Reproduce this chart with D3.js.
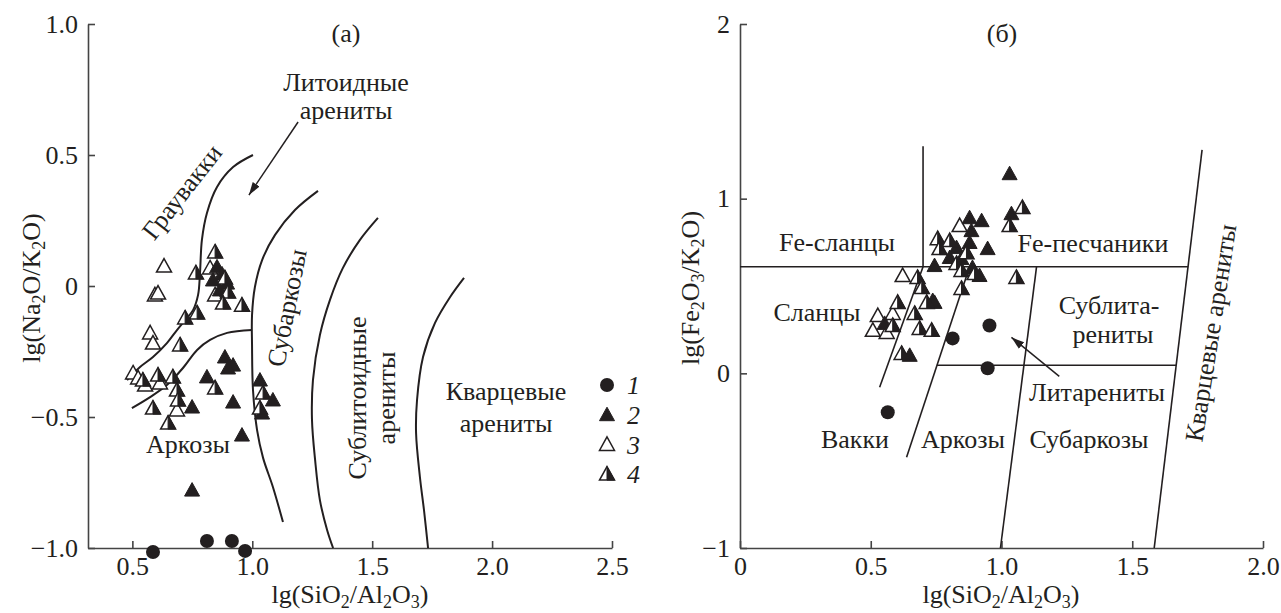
<!DOCTYPE html>
<html><head><meta charset="utf-8">
<script src="https://cdn.jsdelivr.net/npm/d3@7"></script>
<style>
html,body{margin:0;padding:0;background:#fff;}
svg{display:block;}
svg text{font-family:"Liberation Serif","DejaVu Serif","Times New Roman",serif;fill:#231f20;}
</style></head><body>
<svg id="c" width="1281" height="613"></svg>
<script>
// ---------- tick values / labels ----------
const xTicksA = [0.5, 1.0, 1.5, 2.0, 2.5];
const xTickLabelsA = ["0.5", "1.0", "1.5", "2.0", "2.5"];
const yTicksA = [-1, -0.5, 0, 0.5, 1];
const yTickLabelsA = ["\u22121.0", "\u22120.5", "0", "0.5", "1.0"];
const xTicksB = [0, 0.5, 1, 1.5, 2];
const xTickLabelsB = ["0", "0.5", "1.0", "1.5", "2.0"];
const yTicksB = [-1, 0, 1, 2];
const yTickLabelsB = ["\u22121", "0", "1", "2"];
const seriesNames = ["1", "2", "3", "4"];

// ---------- panel (а): lg(SiO2/Al2O3) vs lg(Na2O/K2O) ----------
const a_series1 = [[0.586,-1.015],[0.811,-0.973],[0.915,-0.973],[0.970,-1.011]];
const a_series2 = [[0.853,0.073],[0.874,0.046],[0.836,0.023],[0.895,0.011],[0.865,-0.015],
  [0.886,-0.271],[0.920,-0.302],[0.899,-0.313],[0.811,-0.347],[0.920,-0.443],[0.749,-0.462],
  [0.957,-0.569],[1.032,-0.359],[1.086,-0.435],[1.041,-0.485],[0.749,-0.779]];
const a_series3 = [[0.632,0.076],[0.594,-0.034],[0.607,-0.027],[0.824,0.069],[0.845,-0.034],
  [0.574,-0.179],[0.586,-0.218],[0.503,-0.332],[0.524,-0.351],[0.553,-0.378],[0.615,-0.370],[0.686,-0.473]];
const a_series4 = [[0.845,0.130],[0.765,0.050],[0.886,0.031],[0.899,-0.023],[0.878,-0.065],
  [0.957,-0.073],[0.770,-0.103],[0.720,-0.122],[0.699,-0.225],[0.544,-0.359],[0.607,-0.340],
  [0.669,-0.347],[0.686,-0.397],[0.586,-0.466],[0.649,-0.523],[0.845,-0.389],[1.045,-0.408],
  [1.032,-0.466],[0.690,-0.435]];

const a_curve1 = [[1.003,0.500],[0.920,0.454],[0.853,0.378],[0.811,0.279],[0.790,0.176],[0.782,0.050],
  [0.774,-0.034],[0.753,-0.092],[0.720,-0.130],[0.686,-0.168],[0.644,-0.218],[0.586,-0.271],[0.532,-0.309],[0.478,-0.359]];
const a_curve2 = [[0.498,-0.466],[0.574,-0.424],[0.644,-0.378],[0.711,-0.313],[0.770,-0.244],[0.824,-0.206],[0.895,-0.179],[0.999,-0.168]];
const a_curve3 = [[1.274,0.363],[1.178,0.290],[1.095,0.195],[1.041,0.099],[1.011,-0.004],[0.999,-0.111],[0.999,-0.225],
  [1.003,-0.397],[1.020,-0.550],[1.045,-0.656],[1.086,-0.767],[1.128,-0.901]];
const a_curve4 = [[1.524,0.260],[1.449,0.176],[1.378,0.069],[1.324,-0.053],[1.282,-0.187],[1.253,-0.359],[1.249,-0.511],
  [1.262,-0.664],[1.282,-0.817],[1.312,-0.931],[1.337,-1.000]];
const a_curve5 = [[1.883,0.031],[1.825,-0.042],[1.762,-0.141],[1.712,-0.271],[1.687,-0.435],[1.683,-0.561],[1.699,-0.729],[1.716,-0.855],[1.733,-1.000]];
const a_arrow = [[1.191,0.626],[0.986,0.347]];

// ---------- panel (б): lg(SiO2/Al2O3) vs lg(Fe2O3/K2O) ----------
const b_series1 = [[0.565,-0.223],[0.813,0.200],[0.954,0.274],[0.947,0.029]];
const b_series2 = [[1.031,1.143],[1.038,0.914],[0.878,0.891],[0.924,0.874],[0.885,0.817],[0.947,0.714],
  [0.828,0.720],[0.878,0.749],[0.802,0.663],[0.847,0.657],[0.744,0.617],[0.889,0.606],[0.916,0.560],
  [0.737,0.417],[0.744,0.406],[0.553,0.286],[0.649,0.103]];
const b_series3 = [[0.840,0.846],[0.622,0.560],[0.527,0.331],[0.508,0.246],[0.561,0.234],[0.584,0.343]];
const b_series4 = [[1.080,0.949],[1.031,0.846],[0.756,0.771],[0.802,0.760],[0.763,0.714],[0.866,0.691],
  [0.828,0.629],[0.847,0.589],[0.679,0.549],[1.057,0.549],[0.695,0.491],[0.847,0.486],[0.897,0.571],
  [0.603,0.406],[0.714,0.406],[0.668,0.343],[0.584,0.274],[0.687,0.257],[0.733,0.246],[0.618,0.114]];
const b_lines = [
  [[0.70,1.30],[0.70,0.61]],
  [[0,0.61],[1.714,0.61]],
  [[0.534,-0.08],[0.70,0.61]],
  [[0.637,-0.48],[0.878,0.61]],
  [[0.753,0.046],[1.668,0.046]],
  [[0.996,-1],[1.134,0.61]],
  [[1.584,-1],[1.767,1.279]]
];
const b_arrow = [[1.221,-0.017],[1.038,0.206]];

// ---------- drawing ----------
const svg = d3.select("#c");
const FONT = 26;
const INK = "#231f20";
const FAM = '"Liberation Serif", "DejaVu Serif", serif';

const xA = d3.scaleLinear().domain([0.315, 2.5]).range([88, 612]);
const yA = d3.scaleLinear().domain([-1, 1]).range([548, 24]);
const xB = d3.scaleLinear().domain([0, 2]).range([740, 1263]);
const yB = d3.scaleLinear().domain([-1, 2]).range([548, 24]);

const defs = svg.append("defs");
defs.append("marker").attr("id","arr").attr("viewBox","0 0 10 10")
  .attr("refX",10).attr("refY",5).attr("markerWidth",13).attr("markerHeight",13)
  .attr("markerUnits","userSpaceOnUse").attr("orient","auto")
  .append("path").attr("d","M0,1.8L10,5L0,8.2Z").attr("fill",INK);

function drawAxes(x, y, xt, xl, yt, yl) {
  const gx = svg.append("g").attr("transform", `translate(0,${y.range()[0]})`)
    .call(d3.axisBottom(x).tickValues(xt).tickFormat((d,i)=>xl[i]).tickSize(-7).tickSizeOuter(0).tickPadding(9));
  const gy = svg.append("g").attr("transform", `translate(${x.range()[0]},0)`)
    .call(d3.axisLeft(y).tickValues(yt).tickFormat((d,i)=>yl[i]).tickSize(-7).tickSizeOuter(0).tickPadding(10));
  [gx, gy].forEach(g => {
    g.attr("font-size", FONT).attr("font-family", FAM);
    g.selectAll("path,line").attr("stroke", "#444").attr("stroke-width", 1.6);
    g.selectAll("text").attr("fill", INK);
  });
}
drawAxes(xA, yA, xTicksA, xTickLabelsA, yTicksA, yTickLabelsA);
drawAxes(xB, yB, xTicksB, xTickLabelsB, yTicksB, yTickLabelsB);

function subLabel(parts, tx, ty, rot) {
  const t = svg.append("text").attr("font-size", FONT).attr("text-anchor","middle")
    .attr("font-family", FAM)
    .attr("transform", `translate(${tx},${ty}) rotate(${rot})`);
  let shifted = false;
  parts.forEach(p => {
    const isSub = /^[0-9]$/.test(p);
    const ts = t.append("tspan").text(p);
    if (isSub) { ts.attr("font-size", 18).attr("dy", shifted ? 0 : 5); shifted = true; }
    else { if (shifted) ts.attr("dy", -5); shifted = false; }
  });
}
subLabel(["lg(SiO","2","/Al","2","O","3",")"], 350, 603, 0);
subLabel(["lg(SiO","2","/Al","2","O","3",")"], 1001, 603, 0);
subLabel(["lg(Na","2","O/K","2","O)"], 40, 288, -90);
subLabel(["lg(Fe","2","O","3","/K","2","O)"], 699, 288, -90);

function label(txt, x, y, opts = {}) {
  const t = svg.append("text").text(txt).attr("font-size", FONT)
    .attr("font-family", FAM)
    .attr("text-anchor", opts.anchor || "middle");
  if (opts.rot) t.attr("transform", `translate(${x},${y}) rotate(${opts.rot})`);
  else t.attr("x", x).attr("y", y);
  if (opts.central) t.attr("dominant-baseline", "central");
  if (opts.italic) t.attr("font-style", "italic");
  return t;
}

// panel a labels
label("(а)", 346, 42);
label("Литоидные", 346, 91);
label("арениты", 346, 119);
label("Граувакки", 182, 192, {rot:-52, central:true});
label("Субаркозы", 287, 308, {rot:-79, central:true});
label("Сублитоидные", 366, 398, {rot:-90});
label("арениты", 395, 398, {rot:-90});
label("Кварцевые", 506, 400);
label("арениты", 506, 432);
label("Аркозы", 188, 453);

// panel b labels
label("(б)", 1002, 42);
label("Fe-сланцы", 837, 251);
label("Fe-песчаники", 1093, 252);
label("Сланцы", 817, 321);
label("Сублита-", 1109, 314);
label("рениты", 1113, 343);
label("Литарениты", 1097, 401);
label("Вакки", 855, 448);
label("Аркозы", 963, 448);
label("Субаркозы", 1089, 448);
label("Кварцевые арениты", 1211, 333, {rot:-81, central:true});

// boundaries
const lineA = d3.line().x(d=>xA(d[0])).y(d=>yA(d[1])).curve(d3.curveCatmullRom.alpha(0.5));
[a_curve1, a_curve2, a_curve3, a_curve4, a_curve5].forEach(c => {
  svg.append("path").attr("d", lineA(c)).attr("fill","none").attr("stroke",INK).attr("stroke-width",2);
});
const lineB = d3.line().x(d=>xB(d[0])).y(d=>yB(d[1]));
b_lines.forEach(c => {
  svg.append("path").attr("d", lineB(c)).attr("fill","none").attr("stroke",INK).attr("stroke-width",1.6);
});
svg.append("path").attr("d", d3.line().x(d=>xA(d[0])).y(d=>yA(d[1]))(a_arrow))
  .attr("stroke",INK).attr("stroke-width",1.5).attr("fill","none").attr("marker-end","url(#arr)");
svg.append("path").attr("d", lineB(b_arrow))
  .attr("stroke",INK).attr("stroke-width",1.5).attr("fill","none").attr("marker-end","url(#arr)");

// markers
const TRI = "M0,-7.5L7.5,6L-7.5,6Z";
const HALF = "M0,-7.5L7.5,6L0,6Z";
function drawMarker(g, type, px, py) {
  const m = g.append("g").attr("transform", `translate(${px},${py})`);
  if (type === 1) {
    m.append("circle").attr("r", 7).attr("fill", INK);
  } else if (type === 2) {
    m.append("path").attr("d", TRI).attr("fill", INK).attr("stroke", INK).attr("stroke-width", 1);
  } else if (type === 3) {
    m.append("path").attr("d", TRI).attr("fill", "#fff").attr("stroke", INK).attr("stroke-width", 1.5);
  } else {
    m.append("path").attr("d", TRI).attr("fill", "#fff").attr("stroke", INK).attr("stroke-width", 1.5);
    m.append("path").attr("d", HALF).attr("fill", INK).attr("stroke", INK).attr("stroke-width", 1);
  }
}
function drawSeries(x, y, list) {
  const g = svg.append("g");
  list.forEach(([type, pts]) => pts.forEach(p => drawMarker(g, type, x(p[0]), y(p[1]))));
}
drawSeries(xA, yA, [[3, a_series3], [2, a_series2], [4, a_series4], [1, a_series1]]);
drawSeries(xB, yB, [[3, b_series3], [2, b_series2], [4, b_series4], [1, b_series1]]);

// legend
const lg = svg.append("g");
seriesNames.forEach((n, i) => {
  const yy = 385 + i * 29.7;
  drawMarker(lg, i + 1, 607, yy);
  lg.append("text").text(n).attr("x", 627).attr("y", yy).attr("dy", "0.35em")
    .attr("font-size", FONT).attr("font-family", FAM).attr("font-style", "italic");
});
</script></body></html>
